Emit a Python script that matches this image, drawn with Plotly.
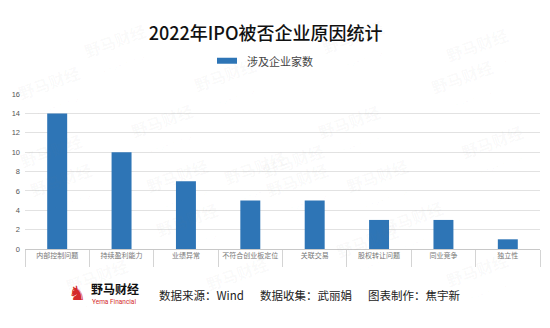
import plotly.graph_objects as go

# IPO rejection reasons, 2022
reasons = ["内部控制问题", "持续盈利能力", "业绩异常", "不符合创业板定位",
           "关联交易", "股权转让问题", "同业竞争", "独立性"]
companies = [14, 10, 7, 5, 5, 3, 3, 1]
series_name = "涉及企业家数"
y_ticks = [0, 2, 4, 6, 8, 10, 12, 14, 16]

W, H = 550, 328
BAR = "#2E75B6"
CJK = "Noto Sans CJK SC"

plot_left, plot_right, plot_top, plot_bottom = 25, 540, 94.3, 249.5
PW, PH = plot_right - plot_left, plot_bottom - plot_top

fig = go.Figure(go.Bar(
    x=reasons, y=companies, name=series_name,
    marker=dict(color=BAR, line=dict(width=0)),
    width=0.31, showlegend=False,
))


def px(x):
    """canvas pixel -> paper x (relative to the plot area)"""
    return (x - plot_left) / PW


def py(y):
    """canvas pixel -> paper y (relative to the plot area)"""
    return (plot_bottom - y) / PH


# faint brand watermarks across the canvas
marks = [(78, 16), (356, 12), (520, 20), (228, 50), (505, 52), (12, 58),
         (125, 96), (14, 126), (258, 143), (392, 97), (296, 136), (140, 184),
         (420, 184), (535, 150), (24, 222), (300, 222), (455, 260), (410, 283),
         (240, 316), (60, 318), (520, 312), (150, 262)]
annotations = []
for mx, my in marks:
    annotations.append(dict(
        x=px(mx), y=py(my), xref="paper", yref="paper", showarrow=False,
        text="<b>野马财经</b><br><span style='font-size:7px'>Yema Financial</span>",
        textangle=-20, font=dict(family=CJK, size=16, color="rgba(120,120,120,0.04)"),
    ))

# legend entry
annotations.append(dict(
    x=px(245), y=py(61), xref="paper", yref="paper", showarrow=False,
    xanchor="left", yanchor="middle", text=series_name,
    font=dict(family=CJK, size=11, color="#444"),
))

# footer credits
footer = [(157, "数据来源：Wind"), (258, "数据收集：武丽娟"), (366, "图表制作：焦宇新")]
for fx, txt in footer:
    annotations.append(dict(
        x=px(fx), y=py(296), xref="paper", yref="paper", showarrow=False,
        xanchor="left", yanchor="middle", text=txt,
        font=dict(family=CJK, size=11.5, color="#222"),
    ))

# logo: horse mark, brand name and English subtitle
annotations += [
    dict(x=px(88), y=py(294), xref="paper", yref="paper", showarrow=False,
         xanchor="right", yanchor="middle", text="♞",
         font=dict(family="DejaVu Sans", size=20, color="#d42a2a")),
    dict(x=px(89), y=py(289), xref="paper", yref="paper", showarrow=False,
         xanchor="left", yanchor="middle", text="<b>野马财经</b>",
         font=dict(family=CJK, size=12, color="#111")),
    dict(x=px(90), y=py(302.5), xref="paper", yref="paper", showarrow=False,
         xanchor="left", yanchor="middle", text="Yema Financial",
         font=dict(family="Roboto", size=6.5, color="#d42a2a")),
]

shapes = [dict(type="rect", xref="paper", yref="paper",
               x0=px(217), x1=px(237), y0=py(64), y1=py(58),
               fillcolor=BAR, line=dict(width=0))]

fig.update_layout(
    width=W, height=H,
    margin=dict(l=plot_left, r=W - plot_right, t=plot_top, b=H - plot_bottom),
    paper_bgcolor="white", plot_bgcolor="white",
    title=dict(text="2022年IPO被否企业原因统计", x=0.483, xanchor="center",
               y=1 - 34 / H, yanchor="middle", yref="container",
               font=dict(family=CJK, size=18, color="#111", weight=500)),
    annotations=annotations, shapes=shapes,
    xaxis=dict(
        tickson="boundaries", ticks="outside", ticklen=17, tickcolor="#d4d4d4",
        tickwidth=1, showline=True, linecolor="#c8c8c8", linewidth=1,
        showgrid=False, tickangle=0,
        tickfont=dict(family=CJK, size=7, color="#777"),
    ),
    yaxis=dict(
        range=[0, 16], tickvals=y_ticks, showgrid=True, gridcolor="#e2e2e2",
        gridwidth=1, zeroline=False, showline=False, ticks="",
        tickfont=dict(family="Liberation Sans", size=7.5, color="#555"),
        ticklabelstandoff=4,
    ),
)

fig.write_html("out.html")
